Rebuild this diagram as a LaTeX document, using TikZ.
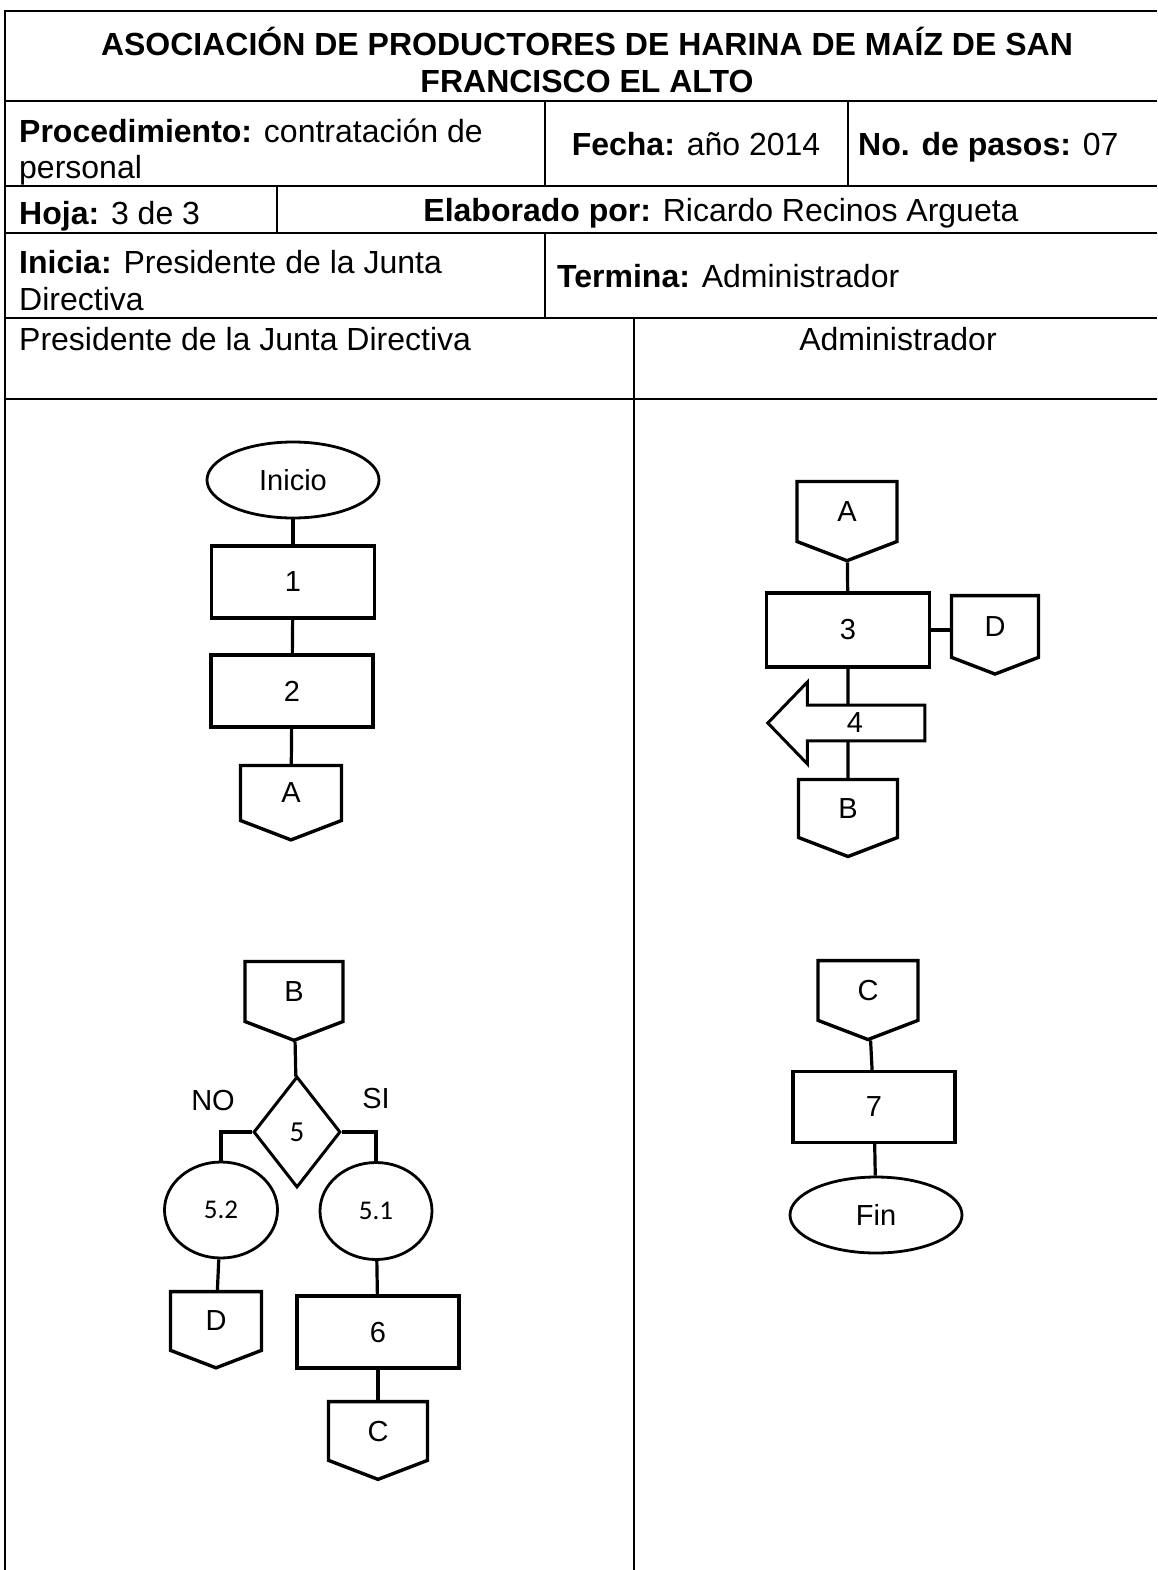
\documentclass[tikz,border=0pt]{standalone}
\usepackage{fontspec}
\setmainfont{Liberation Sans}
\newfontfamily\calibfont{Carlito}
\usetikzlibrary{shapes.geometric,shapes.symbols,shapes.arrows}
\newcommand{\hdsize}{\fontsize{32}{37}\selectfont}
\newcommand{\flsize}{\fontsize{29}{35}\selectfont}
\begin{document}
\begin{tikzpicture}[x=1pt,y=-1pt,
	tabline/.style={line width=1.8pt},
	hd/.style={font=\hdsize, inner sep=0pt},
	flow/.style={line width=3.2pt},
	proc/.style={draw, rectangle, line width=3.4pt, minimum width=162pt, minimum height=72pt, font=\flsize},
	term/.style={draw, ellipse, line width=2.8pt, minimum width=172pt, minimum height=76pt, font=\flsize},
	offpage/.style={draw, signal, signal to=south, signal pointer angle=138, line width=3.4pt, minimum width=100pt, minimum height=64pt, font=\flsize},
	subproc/.style={draw, ellipse, line width=2.8pt, minimum width=113pt, minimum height=96pt, font={\calibfont\fontsize{27}{32}\selectfont}},
	choice/.style={font=\flsize, inner sep=0pt}]
	\useasboundingbox (0,0) rectangle (1157,1570);
	% tabla del encabezado
	\draw[tabline] (5,1570) -- (5,11) -- (1157,11);
	\foreach \y in {101,186,233,318,399}
		\draw[tabline] (5,\y) -- (1157,\y);
	\draw[tabline] (545,101) -- (545,186) (848,101) -- (848,186) (277,186) -- (277,233)
		(545,233) -- (545,318) (634,318) -- (634,1570);
	\node[hd, anchor=base] (tit1) at (587,56) {\bfseries ASOCIACIÓN DE PRODUCTORES DE HARINA DE MAÍZ DE SAN};
	\node[hd, anchor=base] (tit2) at (587,93) {\bfseries FRANCISCO EL ALTO};
	\node[hd, anchor=base west] (proc1) at (19,143) {\textbf{Procedimiento:} contratación de};
	\node[hd, anchor=base west] (proc2) at (19,179) {personal};
	\node[hd, anchor=base] (fecha) at (696,156) {\textbf{Fecha:} año 2014};
	\node[hd, anchor=base west] (pasos) at (858,156) {\textbf{No. de pasos:} 07};
	\node[hd, anchor=base west] (hoja) at (19,225) {\textbf{Hoja:} 3 de 3};
	\node[hd, anchor=base] (elab) at (721,222) {\textbf{Elaborado por:} Ricardo Recinos Argueta};
	\node[hd, anchor=base west] (ini1) at (19,273) {\textbf{Inicia:} Presidente de la Junta};
	\node[hd, anchor=base west] (ini2) at (19,310) {Directiva};
	\node[hd, anchor=base west] (term) at (557,287) {\textbf{Termina:} Administrador};
	\node[hd, anchor=base west] (col1) at (19,350) {Presidente de la Junta Directiva};
	\node[hd, anchor=base] (col2) at (898,350) {Administrador};
	% presidente
	\node[term] (inicio) at (293,480) {Inicio};
	\node[proc, minimum width=163pt] (p1) at (293,582) {1};
	\node[proc] (p2) at (292,691) {2};
	\node[offpage, minimum width=101pt, minimum height=60pt] (a1) at (291,793) {A};
	\draw[flow] (inicio) -- (p1);
	\draw[flow] (p1) -- (p2);
	\draw[flow] (p2) -- (a1);
	\node[offpage, minimum width=98pt, minimum height=65pt] (b2) at (294,991.5) {B};
	\node[draw, diamond, line width=3pt, minimum width=87pt, minimum height=111pt, inner sep=0pt, font={\calibfont\flsize}] (d5) at (297,1132) {5};
	\node[choice] (no) at (213,1101) {NO};
	\node[choice] (si) at (376,1099) {SI};
	\node[subproc] (e52) at (221,1210) {5.2};
	\node[subproc, minimum width=112pt, minimum height=97pt] (e51) at (376,1211) {5.1};
	\node[offpage, minimum width=91pt] (d1) at (216,1321) {D};
	\node[proc] (p6) at (378,1332) {6};
	\node[offpage, minimum width=99pt] (c1) at (378,1431) {C};
	\draw[flow] (b2) -- (d5);
	\draw[flow] (d5.west) -| (e52.north);
	\draw[flow] (d5.east) -| (e51.north);
	\draw[flow] (e52) -- (d1);
	\draw[flow] (e51) -- (p6);
	\draw[flow] (p6) -- (c1);
	% administrador
	\node[offpage, minimum height=65pt] (a2) at (847,511.5) {A};
	\node[proc, minimum width=163pt, minimum height=74pt] (p3) at (848,630) {3};
	\node[offpage, minimum width=87pt, minimum height=67pt] (d2) at (995,626.5) {D};
	\node[offpage, minimum width=99pt, minimum height=63pt] (b1) at (848,808.5) {B};
	\draw[flow] (a2) -- (p3);
	\draw[flow] (p3.east) -- (d2.west |- p3.east);
	\draw[flow] (p3) -- (b1);
	\node[draw, fill=white, single arrow, shape border rotate=180, line width=3pt, minimum height=157pt, minimum width=82pt,
		single arrow head extend=19pt, single arrow tip angle=92, font=\flsize] (p4) at (855,723) {4};
	\node[offpage, minimum height=65pt] (c2) at (868,990.5) {C};
	\node[proc, minimum height=71pt] (p7) at (874,1107) {7};
	\node[term] (fin) at (876,1215) {Fin};
	\draw[flow] (c2) -- (p7);
	\draw[flow] (p7) -- (fin);
\end{tikzpicture}
\end{document}
